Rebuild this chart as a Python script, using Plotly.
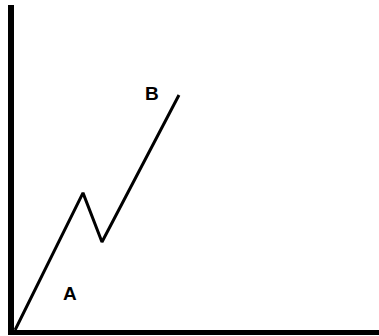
import plotly.graph_objects as go

# Zigzag path (data units on a 0-100 scale)
path_x = [0.3, 18.9, 24.1, 45.2]
path_y = [0.0, 42.2, 27.1, 72.3]

# Point labels
label_text = ["A", "B"]
label_x = [15.3, 37.7]
label_y = [11.2, 72.8]

fig = go.Figure()
fig.add_trace(go.Scatter(x=path_x, y=path_y, mode="lines",
                         line=dict(color="black", width=3),
                         hoverinfo="skip", showlegend=False))
for t, x, y in zip(label_text, label_x, label_y):
    fig.add_annotation(x=x, y=y, text=f"<b>{t}</b>", showarrow=False,
                       font=dict(family="Liberation Sans, Arial", size=19, color="black"),
                       xanchor="center", yanchor="middle")

fig.update_layout(
    width=379, height=336,
    margin=dict(l=14, r=0, t=5, b=6),
    paper_bgcolor="white", plot_bgcolor="white",
    showlegend=False,
    xaxis=dict(range=[0, 100], showgrid=False, zeroline=False, showticklabels=False,
               ticks="", showline=True, linecolor="black", linewidth=5, fixedrange=True),
    yaxis=dict(range=[0, 100], showgrid=False, zeroline=False, showticklabels=False,
               ticks="", showline=True, linecolor="black", linewidth=6, fixedrange=True),
)
fig.write_html("out.html", config={"displayModeBar": False},
               post_script="document.body.style.margin='0';document.body.style.overflow='hidden';")
